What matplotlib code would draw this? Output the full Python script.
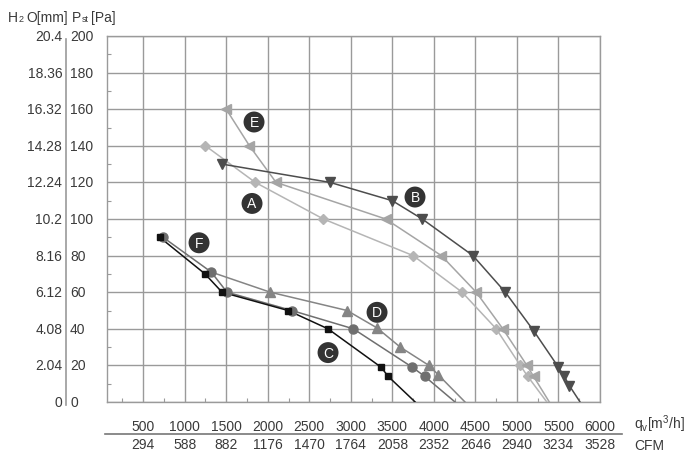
import matplotlib
matplotlib.use('Agg')
from matplotlib import pyplot as plt
from matplotlib.lines import Line2D
from matplotlib.transforms import blended_transform_factory

plt.rcParams['font.family'] = ['Liberation Sans', 'DejaVu Sans']
plt.rcParams['mathtext.fontset'] = 'custom'
plt.rcParams['mathtext.rm'] = 'Liberation Sans'
plt.rcParams['mathtext.it'] = 'Liberation Sans'

# air flow [m3/h] and static pressure [Pa] per curve (last point = curve end, no marker)
a_q = [1250, 1850, 2670, 3750, 4340, 4750, 5040, 5130, 5360]
a_p = [140, 120, 100, 80, 60, 40, 20, 14, 0]
b_q = [1450, 2750, 3500, 3860, 4470, 4860, 5200, 5500, 5570, 5630, 5760]
b_p = [130, 120, 110, 100, 80, 60, 39, 19, 14, 9, 0]
c_q = [700, 1245, 1450, 2245, 2725, 3365, 3450, 3775]
c_p = [90, 70, 60, 50, 40, 19, 14, 0]
d_q = [1320, 2030, 2955, 3315, 3595, 3940, 4050, 4375]
d_p = [71, 60, 50, 40.5, 30, 20, 15, 0]
e_q = [1500, 1780, 2100, 3420, 4090, 4510, 4830, 5120, 5200, 5390]
e_p = [160, 140, 120, 100, 80, 60, 40, 20, 14, 0]
f_q = [740, 1320, 1510, 2290, 3030, 3740, 3890, 4255]
f_p = [90, 71, 60, 50, 40, 19, 14, 0]

badge_names = ['E', 'B', 'A', 'F', 'D', 'C']
badge_q = [1835, 3773, 1811, 1173, 3316, 2726]
badge_p = [153, 112, 108.5, 87, 49, 27]

pa_ticks = [0, 20, 40, 60, 80, 100, 120, 140, 160, 180, 200]
mm_labels = ['0', '2.04', '4.08', '6.12', '8.16', '10.2', '12.24', '14.28', '16.32', '18.36', '20.4']
q_ticks = [500, 1000, 1500, 2000, 2500, 3000, 3500, 4000, 4500, 5000, 5500, 6000]
cfm_labels = ['294', '588', '882', '1176', '1470', '1764', '2058', '2352', '2646', '2940', '3234', '3528']

txt = '#3a3a3a'
grid_c = '#9a9a9a'

fig = plt.figure(figsize=(7, 4.64), dpi=100)
ax = fig.add_axes([107 / 700, 1 - 403 / 464, 493 / 700, 366 / 464])
ax.set_xlim(65, 6000)
ax.set_ylim(0, 200)

for q in q_ticks:
    ax.axvline(q, color=grid_c, lw=1.0, zorder=1)
for p in pa_ticks:
    ax.axhline(p, color=grid_c, lw=1.0, zorder=1)
for s in ax.spines.values():
    s.set_color(grid_c)
    s.set_linewidth(1.0)

ax.set_xticks([250 + 500 * i for i in range(12)])
ax.set_yticks([10 + 20 * i for i in range(10)])
ax.tick_params(direction='in', length=3, width=0.8, color=grid_c,
               labelbottom=False, labelleft=False)

curves = [
    (a_q, a_p, 'D', '#b5b5b5', 5),
    (e_q, e_p, '<', '#a5a5a5', 6.5),
    (b_q, b_p, 'v', '#4d4d4d', 6.5),
    (d_q, d_p, '^', '#858585', 6.5),
    (f_q, f_p, 'o', '#6f6f6f', 6.5),
    (c_q, c_p, 's', '#111111', 5),
]
for q, p, m, col, ms in curves:
    ax.plot(q, p, color=col, lw=1.1, zorder=3)
    start = 1 if q is d_q else 0
    ax.plot(q[start:-1], p[start:-1], ls='none', marker=m, color=col, ms=ms, zorder=4)

for name, q, p in zip(badge_names, badge_q, badge_p):
    ax.text(q, p, name, color='white', fontsize=10, ha='center', va='center', zorder=6,
            bbox=dict(boxstyle='circle,pad=0.25', fc='#333333', ec='none'))

# left scales
ytrans = ax.get_yaxis_transform()
for p, mm in zip(pa_ticks, mm_labels):
    ax.text(-0.075, p, str(p), transform=ytrans, ha='left', va='center', fontsize=10, color=txt)
    ax.text(-0.091, p, mm, transform=ytrans, ha='right', va='center', fontsize=10, color=txt)
fig.add_artist(Line2D([66 / 700, 66 / 700], [1 - 40 / 464, 1 - 406 / 464], color=grid_c, lw=1.2))

head_y = 1 - 22 / 464
fig.text(8 / 700, head_y, 'H', fontsize=10, color=txt, va='baseline')
fig.text(19 / 700, head_y, '2', fontsize=6.5, color=txt, va='baseline')
fig.text(26 / 700, head_y, 'O[mm]', fontsize=10, color=txt, va='baseline')
fig.text(72 / 700, head_y, 'P', fontsize=10, color=txt, va='baseline')
fig.text(82 / 700, head_y, 'st', fontsize=6.5, color=txt, va='baseline')
fig.text(91 / 700, head_y, '[Pa]', fontsize=10, color=txt, va='baseline')

# bottom scales
xtrans = blended_transform_factory(ax.transData, fig.transFigure)
for q, cfm in zip(q_ticks, cfm_labels):
    ax.text(q, 1 - 427 / 464, str(q), transform=xtrans, fontsize=10, color=txt,
            ha='center', va='center')
    ax.text(q, 1 - 445 / 464, cfm, transform=xtrans, fontsize=10, color=txt,
            ha='center', va='center')
fig.add_artist(Line2D([105 / 700, 622 / 700], [1 - 435 / 464, 1 - 435 / 464], color='#777777', lw=1.2))
fig.text(634 / 700, 1 - 424 / 464, r'$\mathregular{q_v[m^3/h]}$', fontsize=10, color=txt,
         ha='left', va='center')
fig.text(634 / 700, 1 - 446 / 464, 'CFM', fontsize=10, color=txt, ha='left', va='center')

fig.savefig('out.png', dpi=100)
